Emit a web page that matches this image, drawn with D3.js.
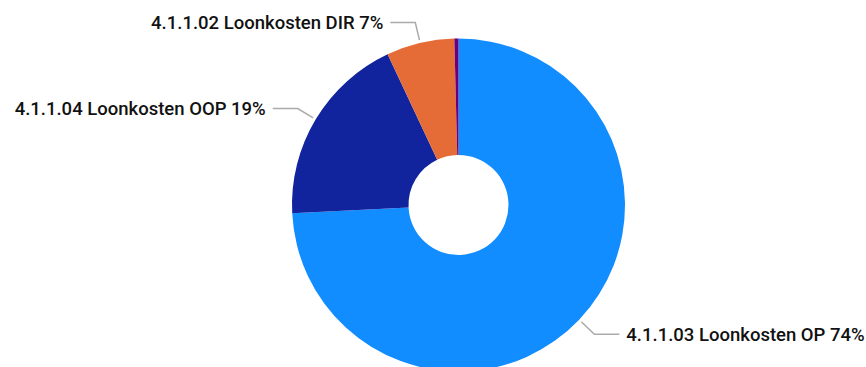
<!DOCTYPE html>
<html>
<head>
<meta charset="utf-8">
<script src="https://cdn.jsdelivr.net/npm/d3@7"></script>
<style>
  html, body { margin: 0; padding: 0; background: #fff; }
  svg { display: block; }
  text { font-family: Roboto, "Noto Sans", sans-serif; }
</style>
</head>
<body>
<svg id="chart" width="866" height="367"></svg>
<script>
// Loonkosten share per cost account (percent of total)
const categories = ["4.1.1.03 Loonkosten OP", "4.1.1.04 Loonkosten OOP", "4.1.1.02 Loonkosten DIR", "4.1.1.01 Loonkosten overig"];
const values = [74.2, 18.8, 6.6, 0.4];
const colors = ["#118DFF", "#12239E", "#E66C37", "#6B007B"];

const width = 866, height = 367;
const cx = 458.5, cy = 205;
const outerR = 166.5, innerR = 50;

const svg = d3.select("#chart");
const g = svg.append("g").attr("transform", `translate(${cx},${cy})`);

const data = categories.map((c, i) => ({ name: c, value: values[i], color: colors[i] }));
const total = d3.sum(values);

const pie = d3.pie().sort(null).value(d => d.value);
const arcs = pie(data);

const arc = d3.arc().innerRadius(innerR).outerRadius(outerR);
const lineStart = d3.arc().innerRadius(outerR + 3).outerRadius(outerR + 3);
const lineElbow = d3.arc().innerRadius(outerR + 21).outerRadius(outerR + 21);

g.selectAll("path.slice")
  .data(arcs)
  .join("path")
  .attr("class", "slice")
  .attr("d", arc)
  .attr("fill", d => d.data.color);

// Labels only for slices large enough to carry one
const labelled = arcs.filter(d => d.data.value / total >= 0.02);
const horiz = 25, gap = 7;

labelled.forEach(d => {
  const mid = (d.startAngle + d.endAngle) / 2;
  const side = Math.sin(mid) >= 0 ? 1 : -1;
  const p0 = lineStart.centroid(d);
  const p1 = lineElbow.centroid(d);
  const p2 = [p1[0] + side * horiz, p1[1]];

  g.append("polyline")
    .attr("points", [p0, p1, p2].map(p => p.join(",")).join(" "))
    .attr("fill", "none")
    .attr("stroke", "#ababab")
    .attr("stroke-width", 1.5);

  g.append("text")
    .attr("x", p2[0] + side * gap)
    .attr("y", p2[1])
    .attr("dy", "0.35em")
    .attr("text-anchor", side > 0 ? "start" : "end")
    .attr("font-size", 18.5)
    .attr("font-weight", 500)
    .attr("fill", "#111")
    .text(`${d.data.name} ${d3.format(".0f")(d.data.value / total * 100)}%`);
});
</script>
</body>
</html>
